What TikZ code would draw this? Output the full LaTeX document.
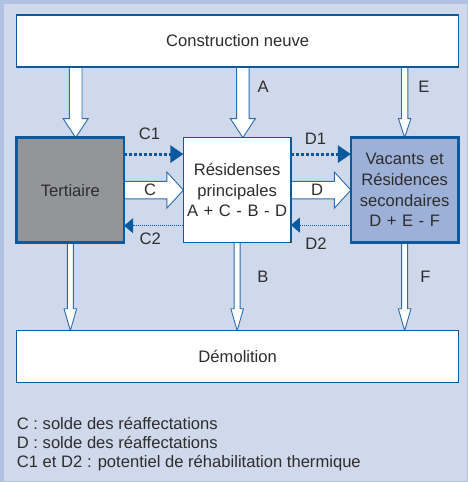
\documentclass[tikz,border=0pt]{standalone}
\usepackage{fontspec}
\setmainfont{Liberation Sans}
\usetikzlibrary{arrows.meta, calc, positioning}

\definecolor{framebg}{HTML}{CFD9EB}
\definecolor{framestrip}{HTML}{B2C2DE}
\definecolor{boxblue}{HTML}{0B5A9F}
\definecolor{arrowblue}{HTML}{2A6CAD}
\definecolor{tertgray}{HTML}{939598}
\definecolor{vacblue}{HTML}{9DB0D7}
\definecolor{txtgray}{HTML}{2D2D2D}

\pgfdeclarelayer{back}
\pgfdeclarelayer{flows}
\pgfsetlayers{back,flows,main}

\newcommand{\diagfont}{\fontsize{16.6pt}{20.6pt}\selectfont}

\tikzstyle{widebox} = [
	rectangle,
	minimum width=442pt,
	minimum height=52pt,
	outer sep=0pt,
	text centered,
	draw=boxblue,
	line width=1.5pt,
	fill=white,
	text=txtgray,
	font=\diagfont
]
\tikzstyle{stock} = [
	rectangle,
	minimum width=107.5pt,
	minimum height=105pt,
	text width=106pt,
	outer sep=0pt,
	inner sep=0pt,
	align=center,
	draw=boxblue,
	text=txtgray,
	font=\diagfont
]
\tikzstyle{lbl} = [
	inner sep=0pt,
	text=txtgray,
	font=\diagfont
]
\tikzstyle{flow} = [draw=arrowblue, fill=white, line width=0.9pt, line join=miter]
\tikzstyle{dotthick} = [draw=boxblue, line width=3pt, dash pattern=on 3pt off 2pt, -{Triangle[length=13pt,width=17pt]}]
\tikzstyle{dotthin} = [draw=boxblue, line width=1pt, dash pattern=on 1pt off 1pt, -{Triangle[length=9pt,width=15pt]}]

% hollow arrow: half shaft / half head / head length
\tikzset{
	hollow/.style args={#1/#2/#3}{
		flow,
		to path={
			($(\tikztostart)!#1!90:(\tikztotarget)$)
			-- ($($(\tikztotarget)!#3!(\tikztostart)$)!#1!90:(\tikztotarget)$) \tikztonodes
			-- ($($(\tikztotarget)!#3!(\tikztostart)$)!#2!90:(\tikztotarget)$)
			-- (\tikztotarget)
			-- ($($(\tikztotarget)!#3!(\tikztostart)$)!#2!-90:(\tikztotarget)$)
			-- ($($(\tikztotarget)!#3!(\tikztostart)$)!#1!-90:(\tikztotarget)$)
			-- ($(\tikztostart)!#1!-90:(\tikztotarget)$)
		}
	}
}

\begin{document}
\begin{tikzpicture}[x=1pt, y=-1pt]

		\useasboundingbox (0,0) rectangle (468,482);
		\begin{pgfonlayer}{back}
			\fill [framestrip] (0,0) rectangle (468,482);
			\fill [framebg] (4,4) rectangle (467,480.5);
		\end{pgfonlayer}

		\node (construction) [widebox] at (237.7,40.85) {Construction neuve};

		\node (tertiaire) [stock, fill=tertgray, line width=2.3pt] at (70.35,190.1) {Tertiaire};
		\node (residences) [stock, fill=white, line width=1.3pt, right=59.3pt of tertiaire] {Résidenses\\principales\\A + C - B - D};
		\node (vacants) [stock, fill=vacblue, line width=2.3pt, right=60pt of residences] {Vacants et\\Résidences\\secondaires\\D + E - F};

		\node (demolition) [widebox] at (237.7,356.7) {Démolition};

		\node (legend) [lbl, align=left, anchor=base west, font=\fontsize{16.6pt}{19.2pt}\selectfont] at (16.7,467.6) {C : solde des réaffectations\\D : solde des réaffectations\\C1 et D2 : potentiel de réhabilitation thermique};

		\coordinate (tin) at ([xshift=5.3pt]tertiaire.north);
		\coordinate (rin) at ([xshift=5.7pt]residences.north);

		\begin{pgfonlayer}{flows}
			\draw [hollow=6.3pt/12.5pt/19pt] (construction.south -| tin) to (tin);
			\draw [hollow=6.3pt/12.5pt/19pt] (construction.south -| rin) to node (lblA) [lbl, pos=.38, right=8pt] {A} (rin);
			\draw [hollow=3.2pt/6.2pt/19pt] (construction.south -| vacants.north) to node (lblE) [lbl, pos=.38, right=10pt] {E} (vacants.north);

			\draw [hollow=8.8pt/18pt/16.5pt] (tertiaire.east) to node (lblC) [lbl, pos=.61, yshift=-8pt] {C} (residences.west);
			\draw [hollow=8.8pt/18pt/16.5pt] (residences.east) to node (lblD) [lbl, pos=.6, yshift=-8pt] {D} (vacants.west);

			\draw [hollow=3pt/6.3pt/22pt] (tertiaire.south) to (tertiaire.south |- demolition.north);
			\draw [hollow=3pt/6.3pt/22pt] (residences.south) to node (lblB) [lbl, pos=.52, right=16.8pt] {B} (residences.south |- demolition.north);
			\draw [hollow=3pt/6.3pt/22pt] (vacants.south) to node (lblF) [lbl, pos=.52, right=12.3pt] {F} (vacants.south |- demolition.north);
		\end{pgfonlayer}

		\draw [dotthick] ([yshift=36pt]tertiaire.east) -- node (lblC1) [lbl, pos=.43, above=13pt] {C1} ([yshift=36pt]residences.west);
		\draw [dotthin] ([yshift=-35.6pt]residences.west) -- node (lblC2) [lbl, pos=.56, below=6.3pt] {C2} ([yshift=-35.6pt]tertiaire.east);
		\draw [dotthick] ([yshift=36pt]residences.east) -- node (lblD1) [lbl, pos=.41, above=8pt] {D1} ([yshift=36pt]vacants.west);
		\draw [dotthin] ([yshift=-35pt]vacants.west) -- node (lblD2) [lbl, pos=.58, below=12pt] {D2} ([yshift=-35pt]residences.east);

	\end{tikzpicture}
\end{document}
